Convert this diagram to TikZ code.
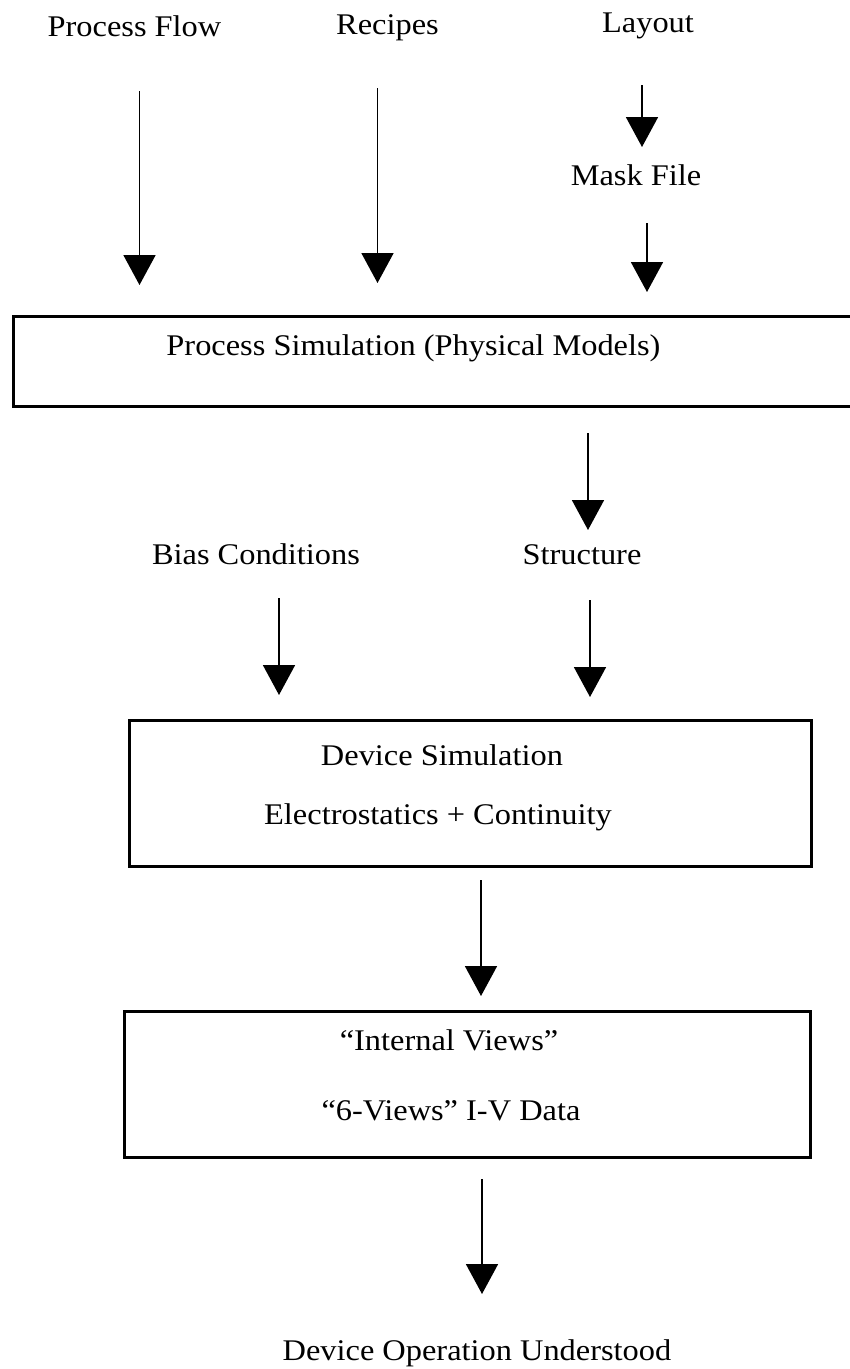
\documentclass[tikz,border=0pt]{standalone}
\usepackage{fontspec}
\setmainfont[FakeStretch=1.08]{Liberation Serif}
\usetikzlibrary{arrows.meta}

\tikzset{
  label/.style={font=\fontsize{30}{36}\selectfont, anchor=base, inner sep=0pt},
  stage/.style={draw, line width=2.5pt, anchor=north west, inner sep=0pt},
  flow/.style={line width=1.8pt, -{Triangle[length=30pt, width=32pt]}}
}

\begin{document}
\begin{tikzpicture}[x=1pt, y=-1pt]
  \useasboundingbox (0,0) rectangle (850,1369);
  \clip (0,0) rectangle (850,1369);

  % inputs
  \node[label] (pf)   at (134.5,36)  {Process Flow};
  \node[label] (rc)   at (387.5,34)  {Recipes};
  \node[label] (lay)  at (648,32)    {Layout};
  \node[label] (mask) at (636,185)   {Mask File};

  % process simulation stage (runs off the right edge)
  \node[stage, minimum width=850pt, minimum height=90pt] (ps) at (12,315) {};
  \node[label] (pstext) at (413.5,355) {Process Simulation (Physical Models)};

  % device simulation inputs
  \node[label] (bias) at (256,564) {Bias Conditions};
  \node[label] (str)  at (582,564) {Structure};

  % device simulation stage
  \node[stage, minimum width=682pt, minimum height=146pt] (ds) at (128,719) {};
  \node[label] (ds1) at (442,765) {Device Simulation};
  \node[label] (ds2) at (438,824) {Electrostatics + Continuity};

  % results stage
  \node[stage, minimum width=686pt, minimum height=146pt] (iv) at (123,1010) {};
  \node[label] (iv1) at (449,1050) {``Internal Views''};
  \node[label] (iv2) at (451,1120) {``6-Views'' I-V Data};

  % outcome
  \node[label] (out) at (477,1360) {Device Operation Understood};

  % arrow end points
  \coordinate (pf-a)   at (139.5,91);  \coordinate (pf-b)   at (139.5,285);
  \coordinate (rc-a)   at (377.5,88);  \coordinate (rc-b)   at (377.5,283);
  \coordinate (lay-a)  at (642,85);    \coordinate (lay-b)  at (642,147);
  \coordinate (mask-a) at (647,223);   \coordinate (mask-b) at (647,292);
  \coordinate (ps-a)   at (588,433);   \coordinate (ps-b)   at (588,530);
  \coordinate (bias-a) at (279,598);   \coordinate (bias-b) at (279,695);
  \coordinate (str-a)  at (590,600);   \coordinate (str-b)  at (590,697);
  \coordinate (ds-a)   at (481,880);   \coordinate (ds-b)   at (481,996);
  \coordinate (iv-a)   at (482,1179);  \coordinate (iv-b)   at (482,1294);

  % connectors
  \draw[flow] (pf-a)   -- (pf-b);
  \draw[flow] (rc-a)   -- (rc-b);
  \draw[flow] (lay-a)  -- (lay-b);
  \draw[flow] (mask-a) -- (mask-b);
  \draw[flow] (ps-a)   -- (ps-b);
  \draw[flow] (bias-a) -- (bias-b);
  \draw[flow] (str-a)  -- (str-b);
  \draw[flow] (ds-a)   -- (ds-b);
  \draw[flow] (iv-a)   -- (iv-b);
\end{tikzpicture}
\end{document}
